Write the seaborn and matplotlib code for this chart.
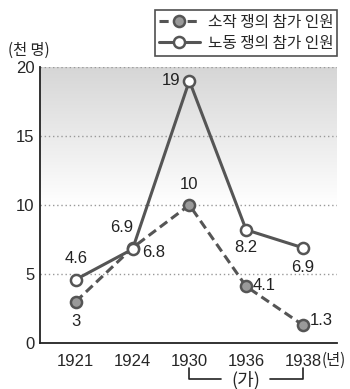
import numpy as np
import pandas as pd
import matplotlib
matplotlib.use("Agg")
import matplotlib.pyplot as plt
import seaborn as sns
from matplotlib.colors import LinearSegmentedColormap

sns.set_style("white")
plt.rcParams["font.family"] = ["Noto Sans CJK KR", "DejaVu Sans"]

years = ["1921", "1924", "1930", "1936", "1938"]
tenancy = [3, 6.9, 10, 4.1, 1.3]
labor = [4.6, 6.8, 19, 8.2, 6.9]
series_names = ["소작 쟁의 참가 인원", "노동 쟁의 참가 인원"]

df = pd.DataFrame({
    "pos": list(range(len(years))) * 2,
    "value": tenancy + labor,
    "series": [series_names[0]] * len(years) + [series_names[1]] * len(years),
})

fig = plt.figure(figsize=(3.5, 3.89), dpi=100)
ax = fig.add_axes([40 / 350, 1 - 343 / 389, 297 / 350, (343 - 67) / 389])

xmin, xmax = -0.63, 4.6
ax.set_xlim(xmin, xmax)
ax.set_ylim(0, 20)

# vertical gray-to-white gradient behind the plot
cmap = LinearSegmentedColormap.from_list("bg", ["#ffffff", "#ffffff", "#d6d6d6"])
grad = np.linspace(0, 1, 256).reshape(-1, 1)
ax.imshow(grad, extent=[xmin, xmax, 0, 20], origin="lower", aspect="auto",
          cmap=cmap, zorder=0)

for yv in [5, 10, 15, 20]:
    ax.axhline(yv, color="#999999", lw=1.0, ls=(0, (1, 2)), zorder=1)

dark = "#555555"
sns.lineplot(data=df[df.series == series_names[0]], x="pos", y="value", ax=ax,
             color=dark, lw=2.2, linestyle=(0, (3, 1.6)), marker="o", markersize=8,
             markerfacecolor="#9a9a9a", markeredgecolor=dark, markeredgewidth=1.8,
             zorder=3, label=series_names[0])
sns.lineplot(data=df[df.series == series_names[1]], x="pos", y="value", ax=ax,
             color=dark, lw=2.2, marker="o", markersize=8,
             markerfacecolor="white", markeredgecolor=dark, markeredgewidth=1.8,
             zorder=4, label=series_names[1])

# value labels: (dx, dy, ha) offsets per point
fs = 12
num_font = ["Liberation Sans", "Noto Sans CJK KR"]
offs_t = [(0, -1.45, "center"), (-0.2, 1.5, "center"), (0, 1.5, "center"),
          (0.12, 0.1, "left"), (0.12, 0.35, "left")]
offs_l = [(0, 1.55, "center"), (0.17, -0.25, "left"), (-0.15, 0, "right"),
          (0, -1.3, "center"), (0, -1.4, "center")]
for vals, offs in [(tenancy, offs_t), (labor, offs_l)]:
    for i, v in enumerate(vals):
        dx, dy, ha = offs[i]
        ax.text(i + dx, v + dy, f"{v:g}", ha=ha, va="center", fontsize=fs,
                family=num_font, color="#222222", zorder=6)

ax.set_xticks(range(len(years)))
ax.set_xticklabels(years, family=num_font, fontsize=fs)
ax.set_yticks([0, 5, 10, 15, 20])
ax.set_yticklabels(["0", "5", "10", "15", "20"], family=num_font, fontsize=fs)
ax.tick_params(axis="x", length=5, width=1.2, color="#222222", pad=3)
ax.tick_params(axis="y", length=0, pad=4)
ax.set_xlabel("")
ax.set_ylabel("")
for s in ["top", "right"]:
    ax.spines[s].set_visible(False)
for s in ["left", "bottom"]:
    ax.spines[s].set_color("#222222")
    ax.spines[s].set_linewidth(1.3)

fig.text(8 / 350, 1 - 50 / 389, "(천 명)", fontsize=11, ha="left", va="center")
fig.text(322 / 350, 1 - 365 / 389, "(년)", fontsize=11, ha="left", va="baseline")

# bracket for the period (가)
bx0 = ax.transData.transform((2, 0))[0] / 350
bx1 = ax.transData.transform((4, 0))[0] / 350
by_top = 1 - 368 / 389
by = 1 - 379 / 389
fig.add_artist(plt.Line2D([bx0, bx0, 221 / 350], [by_top, by, by], color="#222222", lw=1.2))
fig.add_artist(plt.Line2D([270 / 350, bx1, bx1], [by, by, by_top], color="#222222", lw=1.2))
fig.text((bx0 + bx1) / 2, by - 1 / 389, "(가)", fontsize=13, ha="center", va="center")

leg = ax.legend(loc="upper right", bbox_to_anchor=(337 / 350, 1 - 10 / 389),
                bbox_transform=fig.transFigure, frameon=True, fancybox=False,
                edgecolor="#222222", fontsize=11.3, handlelength=2.6,
                borderpad=0.25, labelspacing=0.25, handletextpad=0.5,
                borderaxespad=0)
leg.get_frame().set_linewidth(1.2)

fig.savefig("out.png", dpi=100)
